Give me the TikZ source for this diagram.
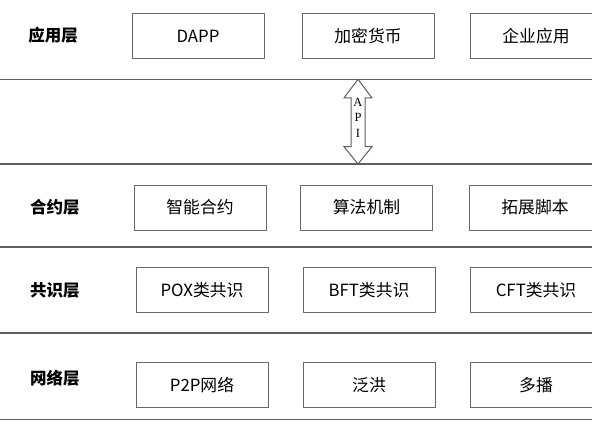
\documentclass[tikz,border=0pt]{standalone}
\usepackage{fontspec}
\usetikzlibrary{calc}
\newfontfamily\cjk{Noto Sans CJK SC}
\newfontfamily\apifont{Liberation Serif}
\definecolor{boxgray}{RGB}{105,105,105}
\definecolor{linegray}{RGB}{95,95,95}
\tikzstyle{layer} = [inner sep=0, outer sep=0,
    font=\cjk\bfseries\fontsize{16.5}{18}\selectfont]
\tikzstyle{item} = [draw=boxgray, line width=1, inner sep=0, outer sep=0,
    minimum width=132, minimum height=45,
    font=\cjk\fontsize{16.8}{18}\selectfont]
\tikzstyle{sep} = [draw=linegray, line width=1.2]

\begin{document}
\begin{tikzpicture}[x=1pt, y=1pt]
\useasboundingbox (0,0) rectangle (592,440);
\clip (0,0) rectangle (592,440);

% separators between the layers
\draw[sep] (0,360.7) -- (592,360.7);
\draw[sep] (0,276) -- (592,276);
\draw[sep] (0,193) -- (592,193);
\draw[sep] (0,107) -- (592,107);
\draw[sep] (0,20.7) -- (592,20.7);

%%% APPLICATION LAYER
\node[layer] (app) at (53,405) {应用层};
\node[item] (dapp) at (198,403.7) {DAPP};
\node[item] (coin) at (368,403.7) {加密货币};
\node[item] (ent) at (536,403.7) {企业应用};

%%% API
% double arrow between the two lines
\coordinate (apitop) at (358,360.7);
\coordinate (apibot) at (358,276);
\draw[linegray, line width=1, fill=white] (apitop) -- ($(apitop)+(14,-18.7)$) -- ($(apitop)+(7,-18.7)$)
    -- ($(apibot)+(7,17.3)$) -- ($(apibot)+(14,17.3)$) -- (apibot) -- ($(apibot)+(-14,17.3)$)
    -- ($(apibot)+(-7,17.3)$) -- ($(apitop)+(-7,-18.7)$) -- ($(apitop)+(-14,-18.7)$) -- cycle;
\node[align=center, inner sep=0, font=\apifont\fontsize{12.5}{15.5}\selectfont] (api)
    at ($(apitop)!0.45!(apibot)$) {A\\P\\I};

%%% CONTRACT LAYER
\node[layer] (contract) at (55,233) {合约层};
\node[item] (smart) at (200,232.5) {智能合约};
\node[item] (algo) at (366.5,232.5) {算法机制};
\node[item] (script) at (535,232.5) {拓展脚本};

%%% CONSENSUS LAYER
\node[layer] (consensus) at (55,149.3) {共识层};
\node[item] (pox) at (202,150) {POX类共识};
\node[item] (bft) at (369,150) {BFT类共识};
\node[item] (cft) at (536,150) {CFT类共识};

%%% NETWORK LAYER
\node[layer] (network) at (55,62) {网络层};
\node[item] (ptp) at (202,55) {P2P网络};
\node[item] (flood) at (369,55) {泛洪};
\node[item] (multi) at (536,55) {多播};

\end{tikzpicture}
\end{document}
